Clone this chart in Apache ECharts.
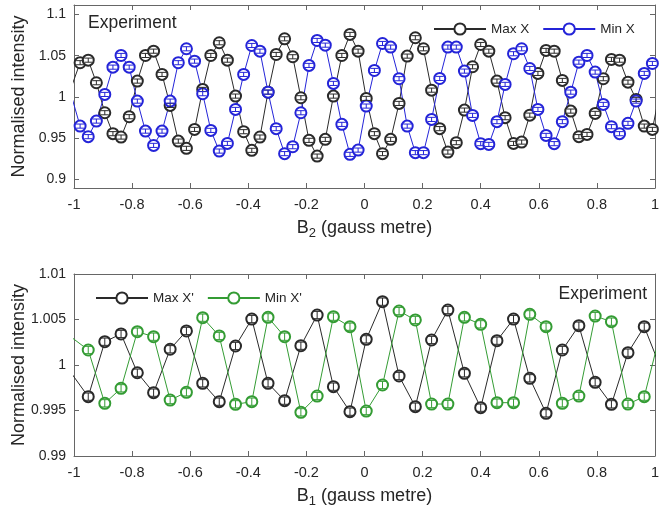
<!DOCTYPE html>
<html>
<head>
<meta charset="utf-8">
<script src="https://cdn.jsdelivr.net/npm/echarts@6/dist/echarts.min.js"></script>
<style>html,body{margin:0;padding:0;background:#fff}#c{width:661px;height:510px}</style>
</head>
<body>
<div id="c"></div>
<script>
// ---- Top panel (B2 scan) ----
const xTop = [-1.007,-0.979,-0.951,-0.923,-0.894,-0.866,-0.838,-0.810,-0.782,-0.754,-0.726,-0.697,-0.669,-0.641,-0.613,-0.585,-0.557,-0.529,-0.500,-0.472,-0.444,-0.416,-0.388,-0.360,-0.332,-0.304,-0.275,-0.247,-0.219,-0.191,-0.163,-0.135,-0.107,-0.078,-0.050,-0.022,0.006,0.034,0.062,0.090,0.119,0.147,0.175,0.203,0.231,0.259,0.287,0.316,0.344,0.372,0.400,0.428,0.456,0.484,0.513,0.541,0.569,0.597,0.625,0.653,0.681,0.710,0.738,0.766,0.794,0.822,0.850,0.878,0.907,0.935,0.963,0.991,1.019];
const maxX = [1.014,1.0415,1.0446,1.0172,0.9808,0.9554,0.9513,0.976,1.0192,1.0503,1.0555,1.0273,0.9897,0.9464,0.9376,0.9606,1.0091,1.0503,1.0657,1.0446,1.001,0.9578,0.9352,0.9513,1.0058,1.0515,1.0705,1.0487,0.999,0.9473,0.9282,0.9485,1.001,1.0503,1.0758,1.0555,0.9982,0.9554,0.9312,0.9485,0.9921,1.0495,1.0718,1.0584,1.0082,0.9615,0.9331,0.9445,0.984,1.0366,1.0636,1.0555,1.0192,0.9748,0.9436,0.9452,0.9779,1.0285,1.0564,1.0555,1.02,0.9828,0.9518,0.9545,0.98,1.0221,1.0455,1.0446,1.0179,0.997,0.9646,0.9606,1.01];
const minX = [0.999,0.9646,0.9518,0.9707,1.003,1.0361,1.0503,1.0361,0.9949,0.9585,0.9412,0.9585,0.9949,1.0415,1.0584,1.0434,1.0039,0.9594,0.9343,0.9436,0.9848,1.0273,1.0624,1.0555,1.0058,0.9615,0.9312,0.9396,0.9808,1.0382,1.0685,1.0628,1.0164,0.9667,0.9303,0.9355,0.9889,1.0321,1.0648,1.0604,1.0221,0.9646,0.9324,0.9324,0.9727,1.0224,1.0604,1.0604,1.0313,0.9776,0.9433,0.9424,0.97,1.0152,1.0524,1.0584,1.0345,0.9848,0.9533,0.9433,0.97,1.0058,1.0422,1.0503,1.0301,0.9909,0.9639,0.9554,0.9679,0.9949,1.0285,1.0406,1.03];
const errTop = 0.0025;
const yTicksTop = [0.9, 0.95, 1, 1.05, 1.1];

// ---- Bottom panel (B1 scan) ----
const xBot = [-1.007,-0.951,-0.894,-0.838,-0.782,-0.726,-0.669,-0.613,-0.557,-0.500,-0.444,-0.388,-0.332,-0.275,-0.219,-0.163,-0.107,-0.050,0.006,0.062,0.119,0.175,0.231,0.287,0.344,0.400,0.456,0.513,0.569,0.625,0.681,0.738,0.794,0.850,0.907,0.963,1.019];
const maxXp = [0.9990,0.99652,1.00256,1.00341,0.99915,0.99696,1.00173,1.00374,0.99799,0.99597,1.00209,1.00505,0.99799,0.99608,1.00212,1.00549,0.99762,0.99487,1.00282,1.00696,0.99879,0.99542,1.00275,1.00604,0.99909,0.99531,1.00267,1.00505,0.99854,0.99469,1.00165,1.00432,0.9981,0.99568,1.00135,1.00421,0.9997];
const minXp = [1.0030,1.00165,0.99579,0.99744,1.00366,1.00311,0.99615,0.997,1.0052,1.00319,0.99568,0.99597,1.00524,1.00311,0.9948,0.99659,1.00531,1.00421,0.99494,0.9978,1.00593,1.00495,0.99571,0.99571,1.00524,1.00447,0.99586,0.99586,1.00557,1.00421,0.99579,0.99659,1.00538,1.00476,0.99571,0.99652,1.0036];
const errBot = 0.0004;
const yTicksBot = [0.99, 0.995, 1, 1.005, 1.01];

const FONT = 'Liberation Sans, Arial, Helvetica, sans-serif';
const TXT = '#262626';
const AX = '#666666';
const BLACK = '#2a2a2a', BLUE = '#2424d8', GREEN = '#349c34';

const fmt = v => String(+v.toFixed(4));

function pairs(xs, ys){ return xs.map((x,i)=>[x, ys[i]]); }
function inRange(xs, ys){ return pairs(xs, ys).filter(p => p[0] >= -1 && p[0] <= 1); }

function errRender(err, color){
  return function(params, api){
    const x = api.value(0), y = api.value(1);
    const lo = api.coord([x, y - err]);
    const hi = api.coord([x, y + err]);
    const w = 4;
    const st = {stroke: color, lineWidth: 1, fill: null};
    return {type:'group', children:[
      {type:'line', shape:{x1:lo[0], y1:lo[1], x2:hi[0], y2:hi[1]}, style:st},
      {type:'line', shape:{x1:lo[0]-w, y1:lo[1], x2:lo[0]+w, y2:lo[1]}, style:st},
      {type:'line', shape:{x1:hi[0]-w, y1:hi[1], x2:hi[0]+w, y2:hi[1]}, style:st}
    ]};
  };
}

function mainX(gi, sub){
  return {
    type:'value', gridIndex:gi, min:-1, max:1, interval:0.2, position:'bottom',
    axisLine:{show:true, onZero:false, lineStyle:{color:AX, width:1}},
    axisTick:{show:true, inside:true, length:5, lineStyle:{color:AX}},
    splitLine:{show:false},
    axisLabel:{color:TXT, fontSize:14.5, fontFamily:FONT, margin:9, formatter:fmt},
    name:'{a|B}{s|' + sub + '}{a| (gauss metre)}',
    nameLocation:'middle', nameGap:30, nameMoveOverlap:false,
    nameTextStyle:{color:TXT, fontFamily:FONT,
      rich:{a:{fontSize:18, color:TXT, fontFamily:FONT, lineHeight:20},
            s:{fontSize:13, color:TXT, fontFamily:FONT, lineHeight:20, padding:[11,0,0,0]}}}
  };
}
function topX(gi){
  return {
    type:'value', gridIndex:gi, min:-1, max:1, interval:0.2, position:'top',
    axisLine:{show:true, onZero:false, lineStyle:{color:AX, width:1}},
    axisTick:{show:true, inside:true, length:5, lineStyle:{color:AX}},
    axisLabel:{show:false}, splitLine:{show:false}
  };
}
function mainY(gi, mn, mx, ticks){
  return {
    type:'value', gridIndex:gi, min:mn, max:mx, position:'left',
    axisLine:{show:true, onZero:false, lineStyle:{color:AX, width:1}},
    axisTick:{show:true, inside:true, length:5, lineStyle:{color:AX}, customValues:ticks},
    axisLabel:{color:TXT, fontSize:14, fontFamily:FONT, margin:8, customValues:ticks, formatter:fmt},
    splitLine:{show:false},
    name:'Normalised intensity', nameLocation:'middle', nameGap:46, nameMoveOverlap:false,
    nameTextStyle:{color:TXT, fontSize:18, fontFamily:FONT}
  };
}
function rightY(gi, mn, mx, ticks){
  return {
    type:'value', gridIndex:gi, min:mn, max:mx, position:'right',
    axisLine:{show:true, onZero:false, lineStyle:{color:AX, width:1}},
    axisTick:{show:true, inside:true, length:5, lineStyle:{color:AX}, customValues:ticks},
    axisLabel:{show:false, customValues:ticks}, splitLine:{show:false}
  };
}

function lineSeries(name, xi, yi, xs, ys, color){
  return {
    name:name, type:'line', xAxisIndex:xi, yAxisIndex:yi,
    data:pairs(xs, ys), clip:true,
    symbol:'emptyCircle', symbolSize:11, showSymbol:true,
    lineStyle:{color:color, width:1}, itemStyle:{color:color, borderColor:color, borderWidth:1},
    emphasis:{disabled:true}, animation:false, z:2
  };
}
function errSeries(name, xi, yi, xs, ys, err, color){
  return {
    name:name, type:'custom', xAxisIndex:xi, yAxisIndex:yi,
    data:inRange(xs, ys), renderItem:errRender(err, color),
    encode:{x:0, y:1}, silent:true, animation:false, z:3
  };
}

const chart = echarts.init(document.getElementById('c'), null, {renderer:'canvas'});
chart.setOption({
  animation:false,
  backgroundColor:'#ffffff',
  textStyle:{fontFamily:FONT},
  title:[
    {text:'Experiment', left:88, top:14, padding:0, textStyle:{fontSize:17.5, fontWeight:'normal', color:TXT, fontFamily:FONT}},
    {text:'Experiment', right:14, top:285, padding:0, textStyle:{fontSize:17.5, fontWeight:'normal', color:TXT, fontFamily:FONT}}
  ],
  legend:[
    {data:['Max X','Min X'], left:433, top:22, itemWidth:52, itemHeight:14, itemGap:13, padding:0,
     textStyle:{fontSize:13.5, color:TXT, fontFamily:FONT}, selectedMode:false},
    {data:["Max X'","Min X'"], left:95, top:291, itemWidth:52, itemHeight:14, itemGap:13, padding:0,
     textStyle:{fontSize:13.5, color:TXT, fontFamily:FONT}, selectedMode:false}
  ],
  grid:[
    {left:74, right:6, top:5, height:183, containLabel:false, outerBoundsMode:'none'},
    {left:74, right:6, top:274, height:182, containLabel:false, outerBoundsMode:'none'}
  ],
  xAxis:[mainX(0,'2'), topX(0), mainX(1,'1'), topX(1)],
  yAxis:[mainY(0,0.8895,1.1115,yTicksTop), rightY(0,0.8895,1.1115,yTicksTop),
         mainY(1,0.99,1.01,yTicksBot), rightY(1,0.99,1.01,yTicksBot)],
  series:[
    lineSeries('Max X',0,0,xTop,maxX,BLACK),
    lineSeries('Min X',0,0,xTop,minX,BLUE),
    errSeries('Max X err',0,0,xTop,maxX,errTop,BLACK),
    errSeries('Min X err',0,0,xTop,minX,errTop,BLUE),
    lineSeries("Max X'",2,2,xBot,maxXp,BLACK),
    lineSeries("Min X'",2,2,xBot,minXp,GREEN),
    errSeries("Max X' err",2,2,xBot,maxXp,errBot,BLACK),
    errSeries("Min X' err",2,2,xBot,minXp,errBot,GREEN)
  ]
});
</script>
</body>
</html>
